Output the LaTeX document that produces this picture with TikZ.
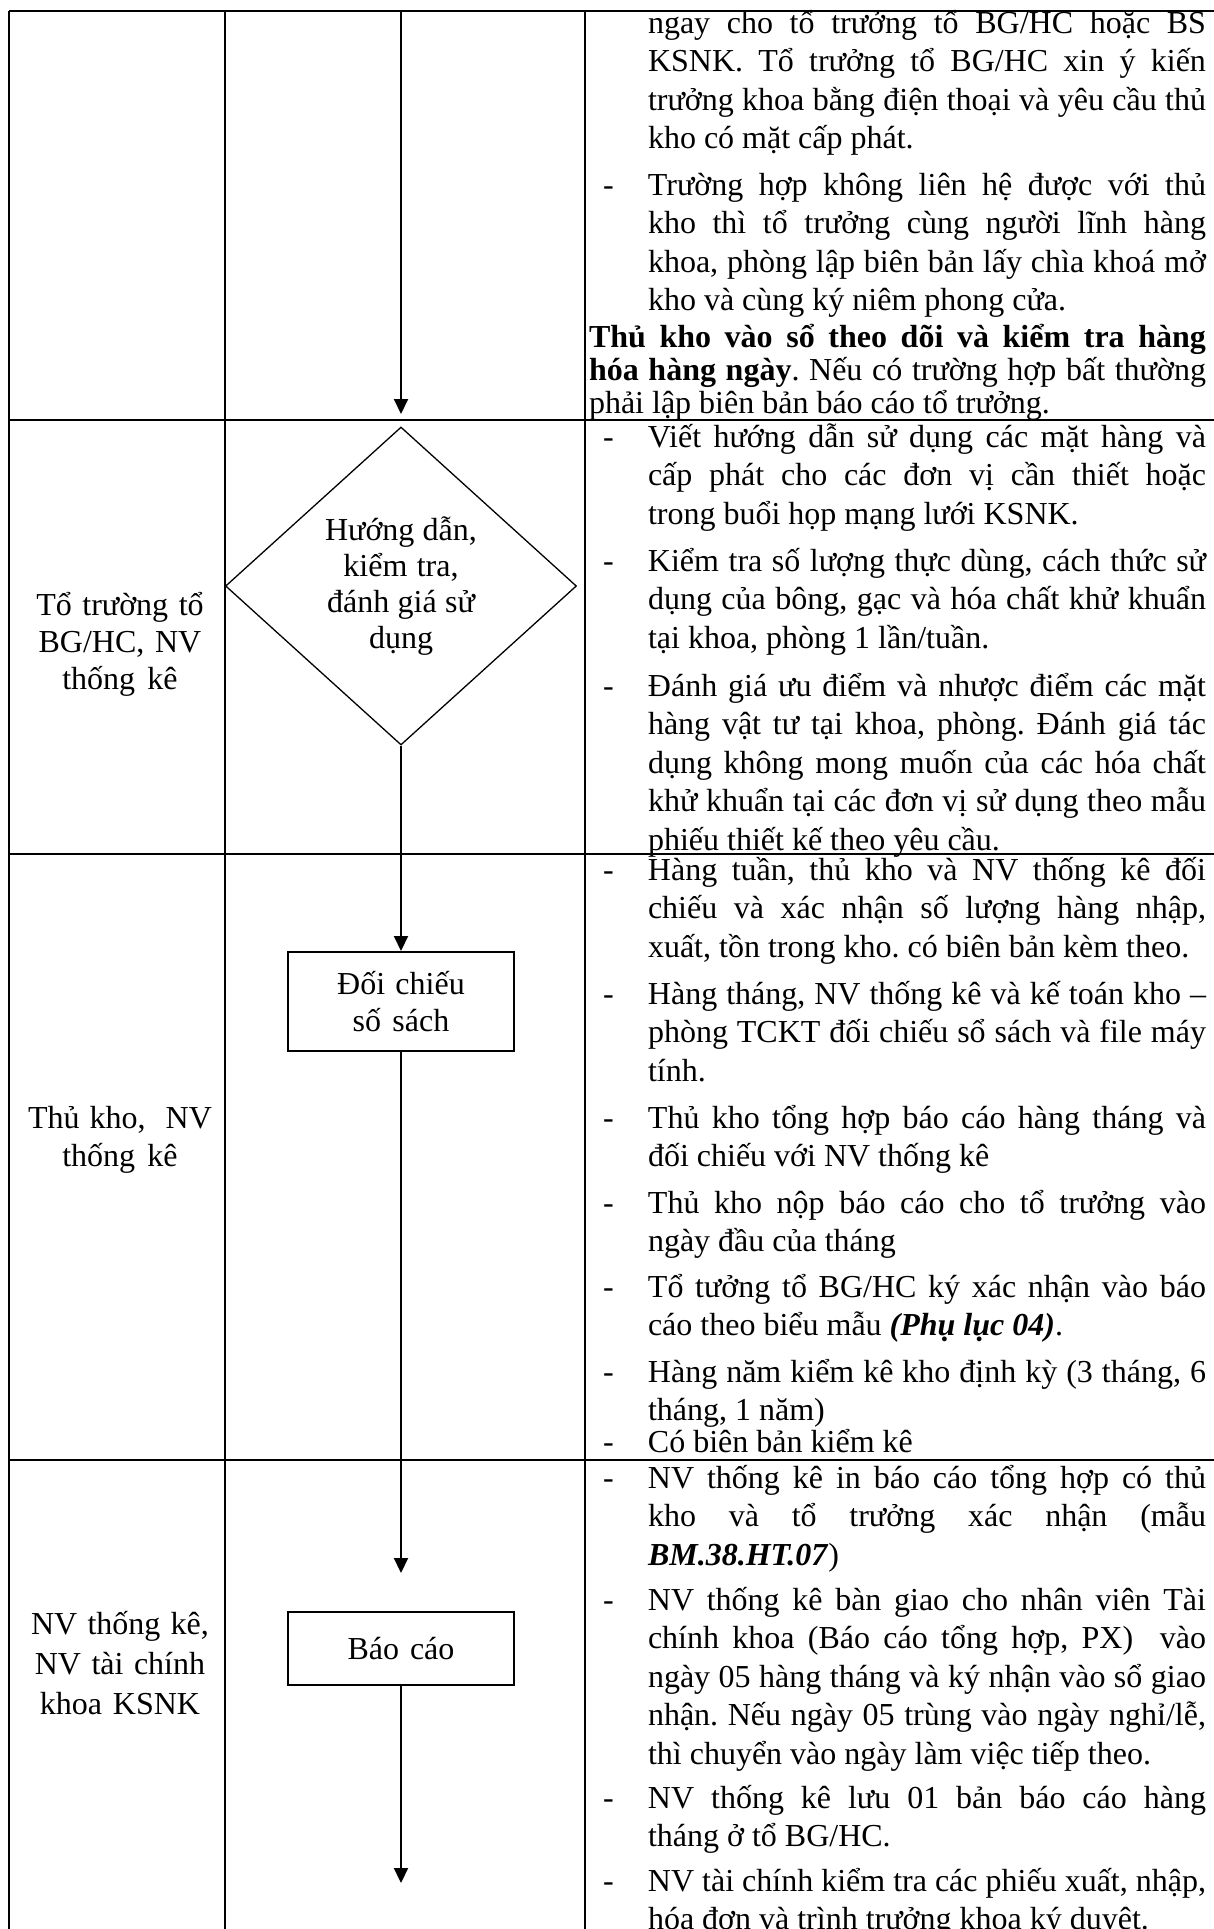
\documentclass[tikz,border=0pt]{standalone}
\usepackage{fontspec}
\setmainfont{Liberation Serif}
\usetikzlibrary{arrows.meta,shapes.geometric}
\newlength{\cw}\setlength{\cw}{279pt}
\newlength{\bw}\setlength{\bw}{308.5pt}
\newcommand{\ns}{\spaceskip=0pt\xspaceskip=0pt\relax}
\newcommand{\JL}[1]{\makebox[\cw][s]{#1}\\}
\newcommand{\JB}[1]{\makebox[\bw][s]{#1}\\}
\newcommand{\DS}{\llap{\makebox[22.5pt][l]{-}}}
\begin{document}
\frenchspacing
\begin{tikzpicture}[x=0.5pt,y=-0.5pt,
  tbl/.style={line width=1pt},
  para/.style={anchor=base west, inner sep=0pt, outer sep=0pt, align=justify, text width=\cw, font=\fontsize{16}{19.3}\selectfont},
  bpara/.style={para, text width=\bw, font=\fontsize{16}{16.7}\selectfont},
  lane/.style={anchor=base, inner sep=0pt, align=center, text width=125pt, font=\fontsize{16}{18.7}\selectfont},
  procbox/.style={draw, line width=1pt, minimum width=113pt, inner sep=0pt, align=center, text width=100pt, font=\fontsize{16}{18.5}\selectfont},
  decision/.style={draw, diamond, line width=0.65pt, inner sep=0pt, minimum width=175.5pt, minimum height=159pt, align=center, text width=80pt, font=\fontsize{16}{18}\selectfont},
  flow/.style={line width=1pt, -{Triangle[length=7.5pt,width=7pt]}}]
\useasboundingbox (0,0) rectangle (1214,1929);
\fill[white] (0,0) rectangle (1214,1929);
% table
\draw[tbl] (9,11) -- (1214,11);
\draw[tbl] (9,11) -- (9,1940);
\draw[tbl] (225,11) -- (225,1940);
\draw[tbl] (585,11) -- (585,1940);
\draw[tbl] (9,420) -- (1214,420);
\draw[tbl] (9,854) -- (1214,854);
\draw[tbl] (9,1460) -- (1214,1460);
% lane labels
\node[lane] (lane2) at (120,615) {\ns Tổ trường tổ\\BG/HC, NV\\thống kê};
\node[lane, font=\fontsize{16}{19.3}\selectfont] (lane3) at (120,1128) {\ns Thủ kho,~ NV\\thống kê};
\node[lane, font=\fontsize{16}{20}\selectfont] (lane4) at (120,1634) {\ns NV thống kê,\\NV tài chính\\khoa KSNK};
% flow
\coordinate (s0) at (401,11);
\coordinate (t1) at (401,414);
\node[decision] (dec) at (401,586) {\ns Hướng dẫn,\\kiểm tra,\\đánh giá sử\\dụng};
\node[procbox, minimum height=49.5pt] (doichieu) at (401,1001.5) {\ns Đối chiếu\\số sách};
\coordinate (t3) at (401,1573);
\node[procbox, minimum height=36.5pt] (baocao) at (401,1648.5) {\ns Báo cáo};
\coordinate (t4) at (401,1883);
\draw[flow] (s0) -- (t1);
\draw[flow] (dec.south) -- (doichieu.north);
\draw[flow] (doichieu.south) -- (t3);
\draw[flow] (baocao.south) -- (t4);
% row 1
\node[para] (p1) at (648,33) {\ns\JL{ngay cho tổ trưởng tổ BG/HC hoặc BS}\JL{KSNK. Tổ trưởng tổ BG/HC xin ý kiến}\JL{trưởng khoa bằng điện thoại và yêu cầu thủ}kho có mặt cấp phát.};
\node[para] (p2) at (648,195) {\ns\JL{\DS Trường hợp không liên hệ được với thủ}\JL{kho thì tổ trưởng cùng người lĩnh hàng}\JL{khoa, phòng lập biên bản lấy chìa khoá mở}kho và cùng ký niêm phong cửa.};
\node[bpara] (p3) at (589,347) {\ns\JB{\textbf{Thủ kho vào sổ theo dõi và kiểm tra hàng}}\JB{\textbf{hóa hàng ngày}. Nếu có trường hợp bất thường}phải lập biên bản báo cáo tổ trưởng.};
% row 2
\node[para] (p4) at (648,447) {\ns\JL{\DS Viết hướng dẫn sử dụng các mặt hàng và}\JL{cấp phát cho các đơn vị cần thiết hoặc}trong buổi họp mạng lưới KSNK.};
\node[para] (p5) at (648,571) {\ns\JL{\DS Kiểm tra số lượng thực dùng, cách thức sử}\JL{dụng của bông, gạc và hóa chất khử khuẩn}tại khoa, phòng 1 lần/tuần.};
\node[para] (p6) at (648,696) {\ns\JL{\DS Đánh giá ưu điểm và nhược điểm các mặt}\JL{hàng vật tư tại khoa, phòng. Đánh giá tác}\JL{dụng không mong muốn của các hóa chất}\JL{khử khuẩn tại các đơn vị sử dụng theo mẫu}phiếu thiết kế theo yêu cầu.};
% row 3
\node[para] (p7) at (648,880) {\ns\JL{\DS Hàng tuần, thủ kho và NV thống kê đối}\JL{chiếu và xác nhận số lượng hàng nhập,}xuất, tồn trong kho. có biên bản kèm theo.};
\node[para] (p8) at (648,1004) {\ns\JL{\DS Hàng tháng, NV thống kê và kế toán kho –}\JL{phòng TCKT đối chiếu sổ sách và file máy}tính.};
\node[para] (p9) at (648,1128) {\ns\JL{\DS Thủ kho tổng hợp báo cáo hàng tháng và}đối chiếu với NV thống kê};
\node[para] (p10) at (648,1213) {\ns\JL{\DS Thủ kho nộp báo cáo cho tổ trưởng vào}ngày đầu của tháng};
\node[para] (p11) at (648,1297) {\ns\JL{\DS Tổ tưởng tổ BG/HC ký xác nhận vào báo}cáo theo biểu mẫu \textbf{\textit{(Phụ lục 04)}}.};
\node[para] (p12) at (648,1382) {\ns\JL{\DS Hàng năm kiểm kê kho định kỳ (3 tháng, 6}tháng, 1 năm)};
\node[para] (p13) at (648,1452) {\ns\DS Có biên bản kiểm kê};
% row 4
\node[para] (p14) at (648,1488) {\ns\JL{\DS NV thống kê in báo cáo tổng hợp có thủ}\JL{kho và tổ trưởng xác nhận (mẫu}\textbf{\textit{BM.38.HT.07}})};
\node[para] (p15) at (648,1610) {\ns\JL{\DS NV thống kê bàn giao cho nhân viên Tài}\JL{chính khoa (Báo cáo tổng hợp, PX)~ vào}\JL{ngày 05 hàng tháng và ký nhận vào sổ giao}\JL{nhận. Nếu ngày 05 trùng vào ngày nghỉ/lễ,}thì chuyển vào ngày làm việc tiếp theo.};
\node[para] (p16) at (648,1808) {\ns\JL{\DS NV thống kê lưu 01 bản báo cáo hàng}tháng ở tổ BG/HC.};
\node[para] (p17) at (648,1891) {\ns\JL{\DS NV tài chính kiểm tra các phiếu xuất, nhập,}hóa đơn và trình trưởng khoa ký duyệt.};
\end{tikzpicture}
\end{document}
